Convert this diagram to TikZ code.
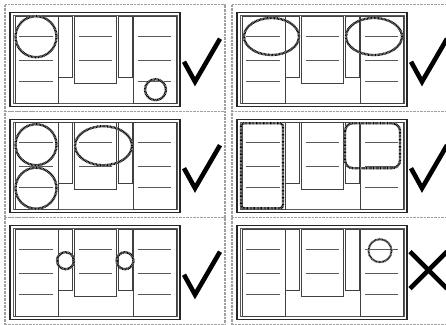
\documentclass[tikz,border=0pt]{standalone}
\tikzset{
  cellframe/.style={draw=gray!75, line width=1.4pt, dash pattern=on .7pt off .7pt},
  outerframe/.style={draw=black!85, line width=1.1pt},
  innerframe/.style={draw=gray!70!black, line width=.7pt},
  column/.style={draw=black!75, line width=.6pt, fill=white},
  rule/.style={draw=black!65, line width=.6pt},
  marker/.style={preaction={draw=gray!55, line width=2.3pt}, draw=black, line width=2.3pt, dash pattern=on .7pt off .7pt},
  verdict/.style={line width=4.6pt, line join=miter}
}
% one mock page: frame, five columns, rules
\newcommand{\mockpage}{%
  \draw[cellframe] (-5,-8) rectangle (215,98.5);
  \draw[outerframe] (0,0) rectangle (170,93.5);
  \draw[innerframe] (3,3) rectangle (167,90.5);
  \draw[column] (5,3.3) rectangle (48,90.3);
  \draw[column] (48,3.3) rectangle (62,64.3);
  \draw[column] (64,3.3) rectangle (106,70.3);
  \draw[column] (108,3.3) rectangle (122,64.3);
  \draw[column] (123,3.3) rectangle (166,90.3);
  \foreach \yy in {23.3,47.3,68.3} {
    \draw[rule] (9,\yy) -- (43,\yy);
    \draw[rule] (128,\yy) -- (161,\yy);
  }
  \foreach \yy in {23.3,47.3}
    \draw[rule] (69,\yy) -- (102,\yy);
}
\newcommand{\tick}{\draw[verdict] (174,49) -- (185,69) -- (210,26);}
\begin{document}
\begin{tikzpicture}[x=1pt,y=-1pt, line cap=butt]
  \useasboundingbox (0,0) rectangle (446,324);
  % row 1
  \begin{scope}[shift={(10,12.7)}]
    \mockpage
    \draw[marker] (26,24) circle[radius=20.5];
    \draw[marker] (145.5,77) circle[radius=10.5];
    \tick
  \end{scope}
  \begin{scope}[shift={(237,12.7)}]
    \mockpage
    \draw[marker] (34.5,23.8) ellipse[x radius=27.5, y radius=18.5];
    \draw[marker] (137,23.8) ellipse[x radius=28, y radius=18.5];
    \tick
  \end{scope}
  % row 2
  \begin{scope}[shift={(10,119.2)}]
    \mockpage
    \draw[marker] (26,25.5) circle[radius=20.5];
    \draw[marker] (26,69) circle[radius=20.5];
    \draw[marker] (93.5,26.5) ellipse[x radius=28.5, y radius=19.5];
    \tick
  \end{scope}
  \begin{scope}[shift={(237,119.2)}]
    \mockpage
    \draw[marker, rounded corners=3pt] (4,4) rectangle (46,89);
    \draw[marker, rounded corners=8pt] (108,4) rectangle (163,49);
    \tick
  \end{scope}
  % row 3
  \begin{scope}[shift={(10,225.7)}]
    \mockpage
    \draw[marker] (55.5,35) circle[radius=8.5];
    \draw[marker] (115,35) circle[radius=8.5];
    \tick
  \end{scope}
  \begin{scope}[shift={(237,225.7)}]
    \mockpage
    \draw[marker, line width=1.6pt, preaction={draw=gray!55, line width=1.6pt}] (143,25) circle[radius=11.5];
    \draw[verdict] (173,26) -- (210,63);
    \draw[verdict] (173,63) -- (210,26);
  \end{scope}
\end{tikzpicture}
\end{document}
